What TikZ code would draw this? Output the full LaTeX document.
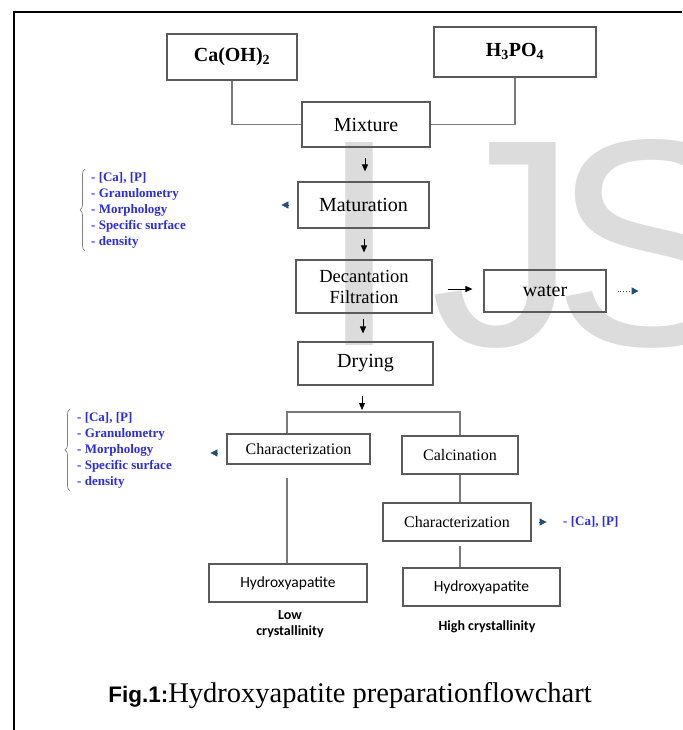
\documentclass[tikz,border=0pt]{standalone}
\usepackage{fontspec}
\setmainfont{Liberation Serif}
\newfontfamily\arialf{Liberation Sans}
\newfontfamily\calibf{Carlito}
\usetikzlibrary{arrows.meta,decorations.pathreplacing}
\definecolor{boxgray}{HTML}{5A5A5A}
\definecolor{linegray}{HTML}{7A7A7A}
\definecolor{listblue}{HTML}{2B2BE8}
\definecolor{navy}{HTML}{1F4E79}
\definecolor{wmgray}{HTML}{DCDCDC}
\begin{document}
\begin{tikzpicture}[x=1pt,y=-1pt,
  box/.style={draw=boxgray, line width=1.2pt, inner sep=0pt, align=center},
  conn/.style={draw=linegray, line width=1.1pt},
  darrow/.style={draw=black, line width=1pt, -{Triangle[length=7pt,width=6pt]}},
  navytip/.style={draw=navy, line width=0.8pt, -{Triangle[length=7pt,width=7pt]}},
  bluelist/.style={text=listblue, font=\fontsize{13}{16}\selectfont\bfseries, align=left, inner sep=0pt, anchor=west},
  bracestyle/.style={draw=gray, line width=0.7pt, decorate, decoration={brace, amplitude=5pt}},
  bigtxt/.style={font=\fontsize{20}{21}\selectfont},
  midtxt/.style={font=\fontsize{16}{18}\selectfont},
  hydtxt/.style={font=\calibf\fontsize{15.5}{17}\selectfont},
  crysttxt/.style={font=\calibf\bfseries\fontsize{14}{16}\selectfont, align=center, inner sep=0pt},
  wmark/.style={anchor=base west, inner sep=0pt, text=wmgray, font=\arialf\fontsize{295}{295}\selectfont}]
\useasboundingbox (0,0) rectangle (682,730);
% watermark
\begin{scope}
\clip (0,0) rectangle (682,730);
\node[wmark] (wmI) at (318,345) {I};
\node[wmark] (wmJ) at (430,345) {J};
\node[wmark] (wmS) at (552,345) {S};
\end{scope}
% frame
\draw[line width=2pt] (14,730) -- (14,12) -- (682,12);
% boxes
\node[box, font=\bfseries\fontsize{20}{21}\selectfont, minimum width=130pt, minimum height=46pt] (caoh) at (232,57) {Ca(OH)\textsubscript{2}};
\node[box, font=\bfseries\fontsize{20}{21}\selectfont, minimum width=162pt, minimum height=50pt] (hpo) at (515,52) {\raisebox{4pt}{H\textsubscript{3}PO\textsubscript{4}}};
\node[box, bigtxt, minimum width=128pt, minimum height=45pt] (mix) at (366,124.5) {Mixture};
\node[box, bigtxt, minimum width=131pt, minimum height=46pt] (mat) at (363.5,205) {Maturation};
\node[box, font=\fontsize{18.5}{21}\selectfont, minimum width=136pt, minimum height=53pt] (dec) at (364,286.5) {Decantation\\Filtration};
\node[box, bigtxt, minimum width=122pt, minimum height=42pt] (water) at (545,291) {water};
\node[box, bigtxt, minimum width=135pt, minimum height=43pt] (dry) at (365.5,363.5) {Drying};
\node[box, midtxt, minimum width=143pt, minimum height=30pt] (charL) at (298.5,449) {Characterization};
\node[box, midtxt, minimum width=116pt, minimum height=38pt] (calc) at (460,455) {Calcination};
\node[box, midtxt, minimum width=148pt, minimum height=38pt] (charR) at (457,522) {Characterization};
\node[box, hydtxt, minimum width=158pt, minimum height=38pt] (hydL) at (288,583) {Hydroxyapatite};
\node[box, hydtxt, minimum width=157pt, minimum height=38pt] (hydR) at (481.5,587) {Hydroxyapatite};
\node[crysttxt] (lowc) at (290,624) {Low\\crystallinity};
\node[crysttxt] (highc) at (487,627) {High crystallinity};
% lists
\node[bluelist] (list1) at (91,210) {- [Ca], [P]\\- Granulometry\\- Morphology\\- Specific surface\\- density};
\draw[bracestyle] (85,251) -- (85,169);
\node[bluelist] (list2) at (77,450) {- [Ca], [P]\\- Granulometry\\- Morphology\\- Specific surface\\- density};
\draw[bracestyle] (70,491) -- (70,409);
\node[bluelist] (list3) at (563,522) {- [Ca], [P]};
% connectors
\draw[conn] (caoh.south) |- (mix.west);
\draw[conn] (hpo.south) |- (mix.east);
\coordinate (spC) at (362,412);
\coordinate (spL) at (287,412);
\coordinate (spR) at (460,412);
\draw[conn] (spL |- charL.north) -- (spL) -- (spR) -- (calc.north);
\coordinate (clTop) at (287,478);
\draw[conn] (clTop) -- (clTop |- hydL.north);
\draw[conn] (calc.south) -- (calc.south |- charR.north);
\coordinate (crTop) at (460,546);
\draw[conn] (crTop) -- (crTop |- hydR.north);
% black arrows
\draw[darrow, shorten <=10pt, shorten >=10pt] (mix.south -| 365,0) -- (mat.north -| 365,0);
\draw[darrow, shorten <=10pt, shorten >=7pt] (mat.south -| 364,0) -- (dec.north -| 364,0);
\draw[darrow, shorten <=5pt, shorten >=8pt] (dec.south -| 363,0) -- (dry.north -| 363,0);
\draw[darrow, shorten <=10pt, shorten >=2pt] (dry.south -| spC) -- (spC);
\draw[darrow, shorten <=15pt, shorten >=11pt] (dec.east |- 0,289) -- (water.west |- 0,289);
% navy tips
\draw[navytip] ([xshift=-8pt]mat.west) -- ([xshift=-16pt]mat.west);
\draw[navytip] ([xshift=-8pt,yshift=-4pt]charL.west) -- ([xshift=-16pt,yshift=-4pt]charL.west);
\draw[navytip] ([xshift=7pt]charR.east) -- ([xshift=15pt]charR.east);
\draw[navytip, dotted, line width=1pt] ([xshift=11pt]water.east) -- ([xshift=32pt]water.east);
% caption
\node[inner sep=0pt] (cap) at (350,696) {{\arialf\bfseries\fontsize{22.5}{24}\selectfont Fig.1:}{\fontsize{28.5}{30}\selectfont Hydroxyapatite preparationflowchart}};
\end{tikzpicture}
\end{document}
